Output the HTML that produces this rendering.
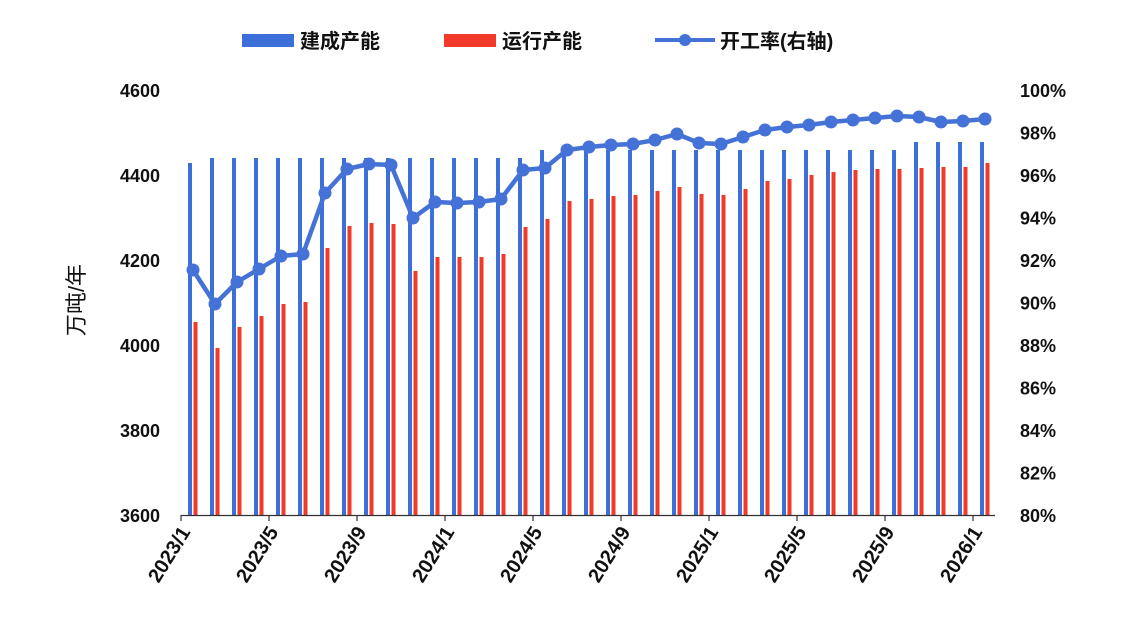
<!DOCTYPE html>
<html><head><meta charset="utf-8"><style>
body{margin:0;background:#fff}
text{font-family:"Liberation Sans","Noto Sans CJK SC",sans-serif;font-weight:bold;fill:#111}
</style></head><body>
<svg width="1131" height="621" viewBox="0 0 1131 621" xmlns="http://www.w3.org/2000/svg">
<g id="bars"></g>
<line x1="181" y1="515.5" x2="995" y2="515.5" stroke="#333" stroke-width="1.2"/>
<g id="ticks" stroke="#333" stroke-width="1.2"></g>
<polyline id="line" fill="none" stroke="#4472d6" stroke-width="4.5" stroke-linejoin="round"/>
<g id="dots" fill="#4472d6"></g>
<g font-size="18" text-anchor="end">
<text x="160" y="97">4600</text><text x="160" y="182">4400</text><text x="160" y="267">4200</text>
<text x="160" y="352">4000</text><text x="160" y="437">3800</text><text x="160" y="522">3600</text>
</g>
<g font-size="18" text-anchor="start" id="rl"></g>
<g font-size="20" text-anchor="end" id="xl"></g>
<text x="0" y="0" font-size="22" transform="translate(84,300) rotate(-90)" text-anchor="middle" style="font-weight:normal">万吨/年</text>
<rect x="242" y="34" width="52" height="13" fill="#3d6fd8"/>
<text x="300" y="48" font-size="20">建成产能</text>
<rect x="444" y="34" width="52" height="13" fill="#f23a2a"/>
<text x="502" y="48" font-size="20">运行产能</text>
<line x1="655" y1="40" x2="715" y2="40" stroke="#4472d6" stroke-width="4"/>
<circle cx="685" cy="40" r="6" fill="#4472d6"/>
<text x="720" y="48" font-size="20">开工率(右轴)</text>
</svg>
<script>
var ns="http://www.w3.org/2000/svg";
function el(p,t,a){var e=document.createElementNS(ns,t);for(var k in a)e.setAttribute(k,a[k]);document.getElementById(p).appendChild(e);return e;}
var blue=[163,158,158,158,158,158,158,158,158,158,158,158,158,158,158,158,150,150,150,150,150,150,150,150,150,150,150,150,150,150,150,150,150,142,142,142,142];
var red=[322,348,327,316,304,302,248,226,223,224,271,257,257,257,254,227,219,201,199,196,195,191,187,194,195,189,181,179,175,172,170,169,169,168,167,167,163];
var ln=[270,304,282,269,256,254,193,169,164,165,218,202,203,202,199,170,168,150,147,145,144,140,134,143,144,137,130,127,125,122,120,118,116,117,122,121,119];
var pts=[];
for(var i=0;i<37;i++){var x=190+22*i;
el("bars","rect",{x:x-2,y:blue[i],width:4,height:515-blue[i],fill:"#3d6fd8"});
el("bars","rect",{x:x+3.5,y:red[i],width:4,height:515-red[i],fill:"#f23a2a"});
pts.push((x+3)+","+ln[i]);el("dots","circle",{cx:x+3,cy:ln[i],r:6.5});}
document.getElementById("line").setAttribute("points",pts.join(" "));
var lab=["2023/1","2023/5","2023/9","2024/1","2024/5","2024/9","2025/1","2025/5","2025/9","2026/1"];
for(var k=0;k<10;k++){var tx=181+88*k;el("ticks","line",{x1:tx,y1:515,x2:tx,y2:521});
var t=el("xl","text",{transform:"translate("+(tx+10)+",532) rotate(-58)"});t.textContent=lab[k];}
for(var j=0;j<11;j++){var t=el("rl","text",{x:1020,y:97+42.5*j});t.textContent=(100-2*j)+"%";}
</script>
</body></html>
